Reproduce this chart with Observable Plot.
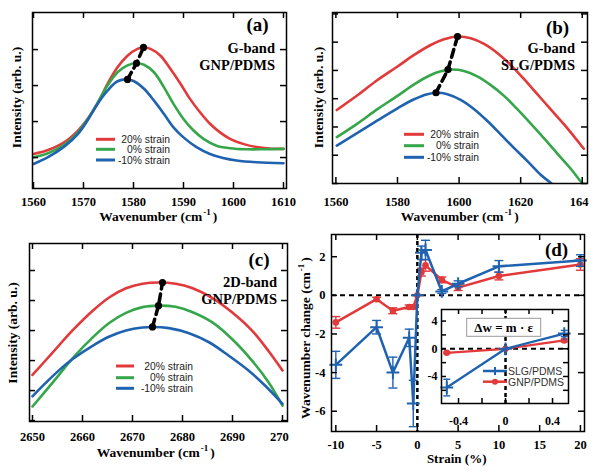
<!DOCTYPE html>
<html><head><meta charset="utf-8">
<script src="https://cdn.jsdelivr.net/npm/d3@7"></script>
<script src="https://cdn.jsdelivr.net/npm/@observablehq/plot@0.6"></script>
<style>
body{margin:0;background:#fff}
#root{position:relative;width:600px;height:476px;overflow:hidden;background:#fff}
.pn{position:absolute;overflow:hidden}
.pn svg{display:block}
#ov{position:absolute;left:0;top:0;pointer-events:none}
</style></head><body><div id="root"></div>
<script>
// ---------- DATA ----------
// Panel (a): G-band GNP/PDMS
const aRedW = [1560,1562.9,1566.2,1568.9,1570.8,1572.8,1574.8,1576.8,1578.8,1580.8,1582,1583.4,1585.4,1587.4,1589.4,1591.3,1593.3,1595.3,1597.3,1599.3,1601.9,1604.6,1607.2,1610];
const aRedI = [1.10,1.21,1.43,1.75,2.07,2.49,3.05,3.51,3.83,4.02,4.06,4.02,3.83,3.46,3.05,2.63,2.26,1.94,1.70,1.52,1.38,1.29,1.25,1.24];
const aGreenW = [1560,1562.9,1566.2,1568.9,1570.8,1572.8,1574.8,1576.8,1578.8,1580.6,1582.1,1584.1,1586.1,1588.0,1590.0,1592.0,1594.0,1596.6,1599.3,1602.6,1605.9,1610];
const aGreenI = [1.01,1.12,1.36,1.70,2.06,2.52,3.00,3.37,3.56,3.62,3.58,3.37,2.95,2.49,2.07,1.75,1.52,1.33,1.26,1.23,1.23,1.24];
const aBlueW = [1560,1562.9,1566.2,1568.9,1570.8,1572.8,1574.8,1576.8,1578.8,1580.1,1582.1,1584.1,1586.1,1588.0,1590.0,1592.6,1595.3,1597.9,1600.6,1604.6,1610];
const aBlueI = [0.82,1.01,1.31,1.66,2.03,2.49,2.86,3.12,3.17,3.12,2.91,2.58,2.21,1.84,1.56,1.29,1.10,0.99,0.92,0.87,0.84];
const aPeakW = [1578.8,1580.6,1582.0];
const aPeakI = [3.17,3.62,4.06];

// Panel (b): G-band SLG/PDMS
const bRedW = [1560.3,1567.0,1573.5,1580.0,1585.4,1590.8,1595.1,1599.5,1603.8,1608.1,1612.4,1616.8,1621.1,1625.4,1629.7,1634.1,1640.5];
const bRedI = [2.60,3.12,3.66,4.14,4.55,4.90,5.10,5.20,5.14,4.94,4.62,4.19,3.69,3.16,2.63,2.09,1.23];
const bGreenW = [1560.3,1567.0,1573.5,1580.0,1585.4,1590.8,1594.1,1597.3,1601.6,1605.9,1610.3,1614.6,1618.9,1623.2,1627.6,1631.9,1636.2,1639.5,1641.5];
const bGreenI = [1.64,2.12,2.63,3.10,3.51,3.84,3.97,4.03,3.98,3.79,3.48,3.10,2.63,2.13,1.60,1.06,0.53,0.07,-0.18];
const bBlueW = [1560.3,1567.0,1573.5,1580.0,1585.4,1589.7,1592.8,1596.2,1600.5,1604.9,1609.2,1613.5,1617.8,1622.2,1626.5,1630.1,1631.5];
const bBlueI = [1.34,1.79,2.23,2.66,2.98,3.16,3.21,3.16,2.96,2.63,2.21,1.74,1.26,0.79,0.31,-0.01,-0.16];
const bPeakW = [1592.5,1596.4,1599.5];
const bPeakI = [3.21,4.03,5.20];

// Panel (c): 2D-band GNP/PDMS
const cRedW = [2650,2654.1,2658.1,2662.1,2665.4,2668.7,2672.0,2675.3,2678.6,2681.9,2685.9,2689.9,2693.9,2697.2,2700];
const cRedI = [1.52,2.28,3.02,3.67,4.11,4.41,4.56,4.60,4.56,4.42,4.09,3.61,3.00,2.32,1.67];
const cGreenW = [2650,2654.1,2658.1,2662.1,2665.4,2668.7,2672.0,2675.2,2678.6,2681.9,2685.9,2689.9,2693.9,2697.2,2700];
const cGreenI = [0.47,1.28,2.09,2.78,3.26,3.59,3.78,3.83,3.79,3.62,3.28,2.72,2.00,1.28,0.50];
const cBlueW = [2650,2652.8,2655.4,2658.1,2662.1,2665.4,2668.7,2672.0,2674.0,2677.3,2681.3,2685.3,2689.2,2693.2,2696.5,2700];
const cBlueI = [0.81,1.28,1.69,2.06,2.50,2.80,3.00,3.10,3.12,3.08,2.91,2.61,2.17,1.67,1.17,0.56];
const cPeakW = [2674.0,2675.2,2676.0];
const cPeakI = [3.12,3.83,4.60];

// Panel (d): wavenumber change vs strain
const strain = [-10,-5,-3,-1,-0.5,0,0.5,1,3,5,10,20];
const slg    = [-3.6,-1.65,-4.0,-2.2,-5.6,0,2.2,2.35,0.2,0.6,1.5,1.8];
const slgErr = [0.7,0.35,0.8,0.45,1.2,0,0.35,0.5,0.1,0.15,0.3,0.3];
const gnp    = [-1.4,-0.2,-0.8,-0.6,-0.6,0,1.2,1.55,0.8,0.4,1.0,1.6];
const gnpErr = [0.3,0.1,0.15,0.1,0.1,0,0.2,0.3,0.15,0.15,0.2,0.3];
// inset
const insetStrain = [-0.5,0,0.5];
const insetSlg = [-5.6,0,2.2];
const insetSlgErr = [1.2,0,0.45];
const insetGnp = [-0.58,0,1.2];
const insetGnpErr = [0.1,0,0.2];

// ticks
const aXTicks = [1560,1570,1580,1590,1600,1610], aYTicks = [1,2,3,4];
const bXTicks = [1560,1580,1600,1620,1640], bYTicks = [0,1,2,3,4,5,6];
const cXTicks = [2650,2660,2670,2680,2690,2700], cYTicks = [0,1,2,3,4,5];
const dXTicks = [-10,-5,0,5,10,15,20], dYTicks = [-6,-4,-2,0,2];
const iXTicks = [-0.4,-0.2,0,0.2,0.4], iXLabels = [-0.4,0,0.4];
const iYTicks = [-6,-4,-2,0,2,4], iYLabels = [-4,0,4];

const strainLabels = ["20% strain","0% strain","-10% strain"];
const seriesNames = ["SLG/PDMS","GNP/PDMS"];

// ---------- STYLE ----------
const SERIF = "'Liberation Serif','Times New Roman',serif";
const SANS = "'Liberation Sans',Arial,sans-serif";
const RED = "#e2393b", GREEN = "#35a64a", BLUE = "#1f62b0";
const colors3 = [RED, GREEN, BLUE];

const root = document.getElementById("root");
function place(node, left, top, w, h) {
  const d = document.createElement("div");
  d.className = "pn";
  Object.assign(d.style, {left: left + "px", top: top + "px", width: w + "px", height: h + "px"});
  d.appendChild(node);
  root.appendChild(d);
}
function frameTicks(xt, yt, W, H, len = 6, sw = 1.5) {
  return [
    Plot.tickX(xt, {x: d => d, insetTop: H - len, strokeWidth: sw}),
    Plot.tickX(xt, {x: d => d, insetBottom: H - len, strokeWidth: sw}),
    Plot.tickY(yt, {y: d => d, insetRight: W - len, strokeWidth: sw}),
    Plot.tickY(yt, {y: d => d, insetLeft: W - len, strokeWidth: sw})
  ];
}
const baseStyle = {background: "transparent", fontFamily: SERIF, overflow: "visible"};

function spectrum(c) {
  const W = c.width - c.ml - c.mr, H = c.height - c.mt - c.mb;
  return Plot.plot({
    width: c.width, height: c.height,
    marginTop: c.mt, marginRight: c.mr, marginBottom: c.mb, marginLeft: c.ml,
    style: baseStyle,
    x: {domain: c.xDomain}, y: {domain: c.yDomain, axis: null},
    marks: [
      ...c.series.map(s => Plot.line(s.i, {x: s.w, y: s.i, stroke: s.color, strokeWidth: 2.6, curve: "catmull-rom", clip: true})),
      Plot.line(c.peakI, {x: c.peakW, y: c.peakI, stroke: "#000", strokeWidth: 3.5, strokeDasharray: "8,5"}),
      Plot.dot(c.peakI, {x: c.peakW, y: c.peakI, r: 3.6, fill: "#000"}),
      Plot.frame({stroke: "#000", strokeWidth: 1.5}),
      ...frameTicks(c.xTicks, c.yTicks, W, H),
      Plot.axisX(c.xTicks, {tickSize: 0, tickPadding: c.pad, tickFormat: d => String(d), fontSize: 12.5, fontWeight: "bold", label: null})
    ]
  });
}

place(spectrum({width: 300, height: 230, mt: 12, mr: 14, mb: 42, ml: 32,
  xDomain: [1559.8, 1610.6], yDomain: [0.14, 5.03], xTicks: aXTicks, yTicks: aYTicks, pad: 8.5,
  series: [{w: aRedW, i: aRedI, color: RED}, {w: aGreenW, i: aGreenI, color: GREEN}, {w: aBlueW, i: aBlueI, color: BLUE}],
  peakW: aPeakW, peakI: aPeakI}), 0, 0, 300, 230);

place(spectrum({width: 289, height: 230, mt: 12, mr: 2, mb: 47, ml: 32,
  xDomain: [1558.9, 1641.7], yDomain: [0, 6.05], xTicks: bXTicks, yTicks: bYTicks, pad: 13.5,
  series: [{w: bRedW, i: bRedI, color: RED}, {w: bGreenW, i: bGreenI, color: GREEN}, {w: bBlueW, i: bBlueI, color: BLUE}],
  peakW: bPeakW, peakI: bPeakI}), 300, 0, 289, 230);

place(spectrum({width: 289, height: 246, mt: 13, mr: 2, mb: 55, ml: 29,
  xDomain: [2649.4, 2701], yDomain: [-0.03, 5.9], xTicks: cXTicks, yTicks: cYTicks, pad: 10.5,
  series: [{w: cRedW, i: cRedI, color: RED}, {w: cGreenW, i: cGreenI, color: GREEN}, {w: cBlueW, i: cBlueI, color: BLUE}],
  peakW: cPeakW, peakI: cPeakI}), 0, 230, 289, 246);

// ---------- panel (d) ----------
const cap = {draw(ctx, size) { const r = Math.sqrt(size / Math.PI); ctx.moveTo(-r, 0); ctx.lineTo(r, 0); }};
function seriesMarks(xs, ys, es, color, sym, capR, sw) {
  const t = xs.map((x, i) => ({x, y: ys[i], e: es[i]}));
  const te = t.filter(d => d.e > 0);
  const dot = sym === "plus"
    ? Plot.dot(t, {x: "x", y: "y", symbol: "plus", r: 4.2, stroke: color, strokeWidth: 2})
    : Plot.dot(t, {x: "x", y: "y", r: 3.3, fill: color});
  return [
    Plot.ruleX(te, {x: "x", y1: d => d.y - d.e, y2: d => d.y + d.e, stroke: color, strokeWidth: 1.4}),
    Plot.dot(te, {x: "x", y: d => d.y - d.e, symbol: cap, r: capR, stroke: color, fill: "none", strokeWidth: 1.4}),
    Plot.dot(te, {x: "x", y: d => d.y + d.e, symbol: cap, r: capR, stroke: color, fill: "none", strokeWidth: 1.4}),
    Plot.line(t, {x: "x", y: "y", stroke: color, strokeWidth: sw}),
    dot
  ];
}
{
  const width = 310, height = 251, mt = 9, mr = 16, mb = 45, ml = 41;
  const W = width - ml - mr, H = height - mt - mb;
  place(Plot.plot({
    width, height, marginTop: mt, marginRight: mr, marginBottom: mb, marginLeft: ml,
    style: baseStyle,
    x: {domain: [-10.53, 20.5]}, y: {domain: [-7.05, 3.15]},
    marks: [
      Plot.ruleY([0], {stroke: "#000", strokeWidth: 2, strokeDasharray: "5,4"}),
      Plot.ruleX([0], {stroke: "#000", strokeWidth: 2.5, strokeDasharray: "4,3"}),
      ...seriesMarks(strain, gnp, gnpErr, RED, "circle", 4.5, 2.5),
      ...seriesMarks(strain, slg, slgErr, BLUE, "plus", 4.5, 2.5),
      Plot.frame({stroke: "#000", strokeWidth: 1.5}),
      ...frameTicks(dXTicks, dYTicks, W, H),
      Plot.axisX(dXTicks, {tickSize: 0, tickPadding: 8.5, tickFormat: d => String(d), fontSize: 12.5, fontWeight: "bold", label: null}),
      Plot.axisY(dYTicks, {tickSize: 0, tickPadding: 6, tickFormat: d => String(d), fontSize: 12.5, fontWeight: "bold", label: null})
    ]
  }), 290, 225, 310, 251);
}
// inset
{
  const width = 160, height = 130, mt = 9, mr = 4, mb = 27, ml = 29;
  const W = width - ml - mr, H = height - mt - mb;
  place(Plot.plot({
    width, height, marginTop: mt, marginRight: mr, marginBottom: mb, marginLeft: ml,
    style: baseStyle,
    x: {domain: [-0.545, 0.536]}, y: {domain: [-7.9, 5.67]},
    marks: [
      Plot.frame({fill: "#fff", stroke: null}),
      Plot.ruleY([0], {stroke: "#000", strokeWidth: 2, strokeDasharray: "5,4"}),
      Plot.ruleX([0], {stroke: "#000", strokeWidth: 2.5, strokeDasharray: "4,3"}),
      ...seriesMarks(insetStrain, insetGnp, insetGnpErr, RED, "circle", 3.5, 2.3),
      ...seriesMarks(insetStrain, insetSlg, insetSlgErr, BLUE, "plus", 3.5, 2.3),
      Plot.frame({stroke: "#000", strokeWidth: 1.5}),
      ...frameTicks(iXTicks, iYTicks, W, H, 5),
      Plot.axisX(iXLabels, {tickSize: 0, tickPadding: 13, tickFormat: d => String(d), fontSize: 12, fontWeight: "bold", label: null}),
      Plot.axisY(iYLabels, {tickSize: 0, tickPadding: 4, tickFormat: d => String(d), fontSize: 12, fontWeight: "bold", label: null})
    ]
  }), 412, 300, 160, 130);
}

// ---------- overlay annotations ----------
const ov = d3.select(root).append("svg").attr("id", "ov").attr("width", 600).attr("height", 476);
function T(x, y, s, o = {}) {
  const t = ov.append("text")
    .attr("font-family", o.family || SERIF).attr("font-weight", o.weight || "bold")
    .attr("font-size", o.size || 14).attr("text-anchor", o.anchor || "middle").attr("fill", o.fill || "#000");
  if (o.rot) t.attr("transform", `translate(${x},${y}) rotate(-90)`); else t.attr("x", x).attr("y", y);
  if (o.db) t.attr("dominant-baseline", o.db);
  if (o.sup) {
    t.append("tspan").text(s);
    t.append("tspan").attr("font-size", 9).attr("dy", -6).attr("dx", 1).text(o.sup);
    t.append("tspan").attr("dy", 6).attr("dx", 2).text(o.post || ")");
  } else t.text(s);
  return t;
}
// axis titles
T(158.3, 221, "Wavenumber (cm", {size: 13.5, sup: "-1"});
T(459.7, 221, "Wavenumber (cm", {size: 13.5, sup: "-1"});
T(155.8, 457, "Wavenumber (cm", {size: 13.5, sup: "-1"});
T(456.7, 463, "Strain (%)", {size: 13});
T(20.5, 97.5, "Intensity (arb. u.)", {size: 13.5, rot: true});
T(322.8, 97.5, "Intensity (arb. u.)", {size: 13.5, rot: true});
T(17.2, 333, "Intensity (arb. u.)", {size: 13.5, rot: true});
T(309.5, 338, "Wavenumber change (cm", {size: 13.5, rot: true, sup: "-1"});
// panel letters
T(257.5, 31, "(a)", {size: 19});
T(557.5, 34, "(b)", {size: 19});
T(259, 266, "(c)", {size: 19});
T(556.5, 256, "(d)", {size: 19});
// band labels
T(275, 52.7, "G-band", {size: 14.5, anchor: "end"});
T(275, 69.5, "GNP/PDMS", {size: 14.5, anchor: "end"});
T(575, 52.7, "G-band", {size: 14.5, anchor: "end"});
T(575, 70, "SLG/PDMS", {size: 14.5, anchor: "end"});
T(277, 286.5, "2D-band", {size: 14.5, anchor: "end"});
T(277, 304, "GNP/PDMS", {size: 14.5, anchor: "end"});
// spectrum legends
function legend3(x1, x2, ys, tx) {
  ys.forEach((y, i) => {
    ov.append("line").attr("x1", x1).attr("x2", x2).attr("y1", y).attr("y2", y)
      .attr("stroke", colors3[i]).attr("stroke-width", 3);
    T(tx, y, strainLabels[i], {family: SANS, weight: "normal", size: 10.3, anchor: "end", db: "central", fill: "#222"});
  });
}
legend3(96, 115, [139.3, 149.3, 160], 170);
legend3(404, 424, [134.3, 145.7, 157.3], 479);
legend3(116, 134, [366, 377.7, 388.3], 193);
// inset legend
[[371, BLUE], [381.7, RED]].forEach(([y, col], i) => {
  ov.append("line").attr("x1", 483).attr("x2", 507).attr("y1", y).attr("y2", y).attr("stroke", col).attr("stroke-width", 2.5);
  if (i === 0) ov.append("path").attr("d", `M${495 - 4},${y}H${495 + 4}M495,${y - 4}V${y + 4}`).attr("stroke", col).attr("stroke-width", 2);
  else ov.append("circle").attr("cx", 495).attr("cy", y).attr("r", 3).attr("fill", col);
  T(508, y, seriesNames[i], {family: SANS, weight: "normal", size: 10.5, anchor: "start", db: "central", fill: "#333"});
});
// formula box
ov.append("rect").attr("x", 466.7).attr("y", 318.3).attr("width", 74).attr("height", 18)
  .attr("fill", "#fff").attr("stroke", "#999").attr("stroke-width", 1);
T(503.7, 332, "Δw = m · ε", {size: 13});
</script></body></html>
